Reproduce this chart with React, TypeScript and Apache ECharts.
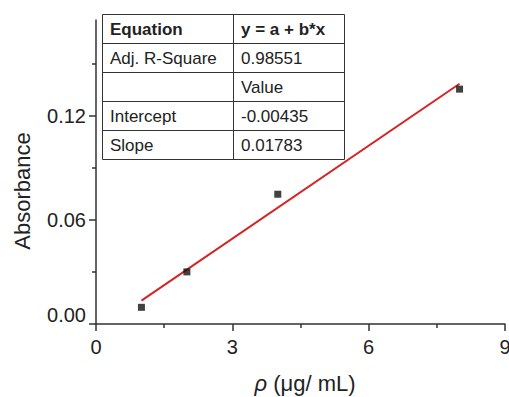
import React, { useEffect, useRef } from "react";
import * as echarts from "echarts";

// ---- data ----
const concentration = [1, 2, 4, 8];
const absorbance = [0.0096, 0.03, 0.0747, 0.1352];
const fitIntercept = -0.00435;
const fitSlope = 0.01783;
const fitRange = [1, 8];
const xMajorTicks = [0, 3, 6, 9];
const xMinorTicks = [1.5, 4.5, 7.5];
const yMajorTicks = [0, 0.06, 0.12];
const yMinorTicks = [0.03, 0.09, 0.15];
const tableCol1 = ["Equation", "Adj. R-Square", "", "Intercept", "Slope"];
const tableCol2 = ["y = a + b*x", "0.98551", "Value", "-0.00435", "0.01783"];

const FONT = "'Liberation Sans', Arial, Helvetica, sans-serif";
const AXIS_COLOR = "#333";
const TEXT_COLOR = "#222";

export default function App() {
  const ref = useRef<HTMLDivElement>(null);

  useEffect(() => {
    if (!ref.current) return;
    const chart = echarts.init(ref.current, null, { renderer: "svg" });

    const scatterData = concentration.map((x, i) => [x, absorbance[i]]);
    const fitData = fitRange.map((x) => [x, fitIntercept + fitSlope * x]);

    // table graphic
    const tLeft = 102;
    const tRight = 344;
    const tDiv = 233;
    const tTop = 14;
    const rowH = 29;
    const nRows = tableCol1.length;
    const tableEls: any[] = [];
    tableEls.push({
      type: "rect",
      shape: { x: tLeft + 0.5, y: tTop + 0.5, width: tRight - tLeft, height: rowH * nRows },
      style: { fill: "#fff", stroke: AXIS_COLOR, lineWidth: 1 },
      z: 10,
    });
    for (let r = 1; r < nRows; r++) {
      tableEls.push({
        type: "line",
        shape: { x1: tLeft, y1: tTop + r * rowH + 0.5, x2: tRight, y2: tTop + r * rowH + 0.5 },
        style: { stroke: AXIS_COLOR, lineWidth: 1 },
        z: 11,
      });
    }
    tableEls.push({
      type: "line",
      shape: { x1: tDiv + 0.5, y1: tTop, x2: tDiv + 0.5, y2: tTop + rowH * nRows },
      style: { stroke: AXIS_COLOR, lineWidth: 1 },
      z: 11,
    });
    for (let r = 0; r < nRows; r++) {
      const cy = tTop + r * rowH + rowH / 2 + 1;
      const bold = r === 0 ? "bold" : "normal";
      tableEls.push({
        type: "text",
        x: tLeft + 8,
        y: cy,
        style: {
          text: tableCol1[r],
          fontSize: 17,
          fontFamily: FONT,
          fontWeight: bold,
          fill: TEXT_COLOR,
          align: "left",
          verticalAlign: "middle",
        },
        z: 12,
      });
      tableEls.push({
        type: "text",
        x: tDiv + 8,
        y: cy,
        style: {
          text: tableCol2[r],
          fontSize: 17,
          fontFamily: FONT,
          fontWeight: bold,
          fill: TEXT_COLOR,
          align: "left",
          verticalAlign: "middle",
        },
        z: 12,
      });
    }

    const option: any = {
      animation: false,
      backgroundColor: "#fff",
      grid: {
        left: 96,
        right: 4,
        top: 20,
        bottom: 73,
        containLabel: false,
        outerBoundsMode: "none",
      },
      xAxis: [
        {
          type: "value",
          min: 0,
          max: 9,
          axisLine: { show: true, onZero: false, lineStyle: { color: AXIS_COLOR, width: 1.5 } },
          axisTick: { show: true, length: 7, customValues: xMajorTicks, lineStyle: { color: AXIS_COLOR, width: 1.5 } },
          axisLabel: {
            show: true,
            customValues: xMajorTicks,
            formatter: (v: number) => String(v),
            fontSize: 20,
            fontFamily: FONT,
            color: TEXT_COLOR,
            margin: 13,
          },
          splitLine: { show: false },
        },
        {
          type: "value",
          min: 0,
          max: 9,
          position: "bottom",
          axisLine: { show: false },
          axisTick: { show: true, length: 4, customValues: xMinorTicks, lineStyle: { color: AXIS_COLOR, width: 1.5 } },
          axisLabel: { show: false },
          splitLine: { show: false },
        },
      ],
      yAxis: [
        {
          type: "value",
          min: 0,
          max: 0.175,
          axisLine: { show: true, onZero: false, lineStyle: { color: AXIS_COLOR, width: 1.5 } },
          axisTick: { show: true, length: 7, customValues: yMajorTicks, lineStyle: { color: AXIS_COLOR, width: 1.5 } },
          axisLabel: {
            show: true,
            customValues: yMajorTicks,
            formatter: (v: number) => (v === 0 ? "{z|" + v.toFixed(2) + "}" : v.toFixed(2)),
            fontSize: 20,
            fontFamily: FONT,
            color: TEXT_COLOR,
            margin: 10,
            rich: {
              z: { fontSize: 20, fontFamily: FONT, color: TEXT_COLOR, padding: [0, 0, 18, 0] },
            },
          },
          splitLine: { show: false },
        },
        {
          type: "value",
          min: 0,
          max: 0.175,
          position: "left",
          axisLine: { show: false },
          axisTick: { show: true, length: 4, customValues: yMinorTicks, lineStyle: { color: AXIS_COLOR, width: 1.5 } },
          axisLabel: { show: false },
          splitLine: { show: false },
        },
      ],
      series: [
        {
          type: "line",
          data: fitData,
          xAxisIndex: 0,
          yAxisIndex: 0,
          showSymbol: false,
          symbol: "none",
          lineStyle: { color: "#d42424", width: 2 },
          z: 2,
        },
        {
          type: "scatter",
          data: scatterData,
          xAxisIndex: 0,
          yAxisIndex: 0,
          symbol: "rect",
          symbolSize: 7,
          itemStyle: { color: "#111" },
          z: 3,
        },
      ],
      graphic: [
        ...tableEls,
        {
          type: "text",
          x: 22,
          y: 191,
          rotation: Math.PI / 2,
          style: {
            text: "Absorbance",
            fontSize: 22,
            fontFamily: FONT,
            fill: TEXT_COLOR,
            align: "center",
            verticalAlign: "middle",
          },
        },
        {
          type: "text",
          x: 305,
          y: 383,
          style: {
            text: "{i|ρ} (μg/ mL)",
            fontSize: 22,
            fontFamily: FONT,
            fill: TEXT_COLOR,
            align: "center",
            verticalAlign: "middle",
            rich: {
              i: { fontStyle: "italic", fontSize: 22, fontFamily: FONT, fill: TEXT_COLOR },
            },
          },
        },
      ],
    };

    chart.setOption(option);
    return () => chart.dispose();
  }, []);

  return (
    <div
      ref={ref}
      style={{ position: "fixed", left: 0, top: 0, width: 509, height: 397, background: "#fff" }}
    />
  );
}
